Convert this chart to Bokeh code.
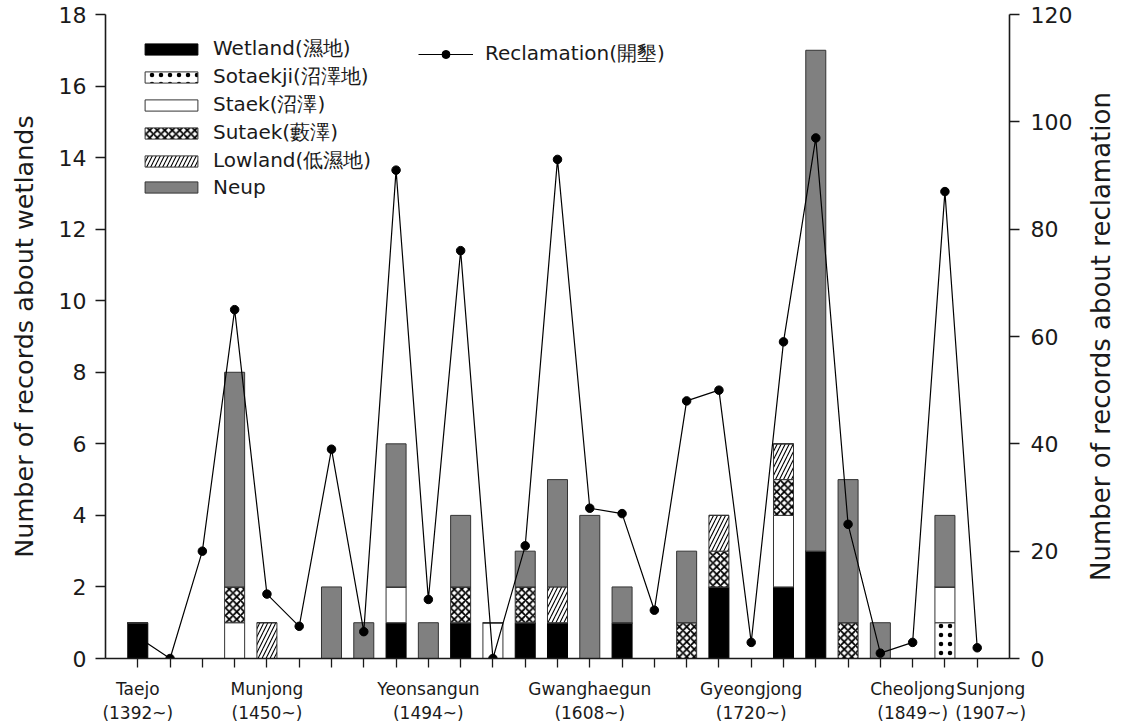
import math
from bokeh.plotting import figure
from bokeh.layouts import row
from bokeh.models import (Range1d, LinearAxis, FixedTicker, SingleIntervalTicker,
                          Legend, LegendItem, ColumnDataSource)
from bokeh.embed import file_html
from bokeh.resources import INLINE

# ---- data -------------------------------------------------------------
reigns = ["Taejo", "Jeongjong", "Taejong", "Sejong", "Munjong", "Danjong", "Sejo",
          "Yejong", "Seongjong", "Yeonsangun", "Jungjong", "Injong", "Myeongjong",
          "Seonjo", "Gwanghaegun", "Injo", "Hyojong", "Hyeonjong", "Sukjong",
          "Gyeongjong", "Yeongjo", "Jeongjo", "Sunjo", "Heonjong", "Cheoljong",
          "Gojong", "Sunjong"]

labelled = {"Taejo": "(1392~)", "Munjong": "(1450~)", "Yeonsangun": "(1494~)",
            "Gwanghaegun": "(1608~)", "Gyeongjong": "(1720~)",
            "Cheoljong": "(1849~)", "Sunjong": "(1907~)"}

wetland  = [1, 0, 0, 0, 0, 0, 0, 0, 1, 0, 1, 0, 1, 1, 0, 1, 0, 0, 2, 0, 2, 3, 0, 0, 0, 0, 0]
sotaekji = [0, 0, 0, 0, 0, 0, 0, 0, 0, 0, 0, 0, 0, 0, 0, 0, 0, 0, 0, 0, 0, 0, 0, 0, 0, 1, 0]
staek    = [0, 0, 0, 1, 0, 0, 0, 0, 1, 0, 0, 1, 0, 0, 0, 0, 0, 0, 0, 0, 2, 0, 0, 0, 0, 1, 0]
sutaek   = [0, 0, 0, 1, 0, 0, 0, 0, 0, 0, 1, 0, 1, 0, 0, 0, 0, 1, 1, 0, 1, 0, 1, 0, 0, 0, 0]
lowland  = [0, 0, 0, 0, 1, 0, 0, 0, 0, 0, 0, 0, 0, 1, 0, 0, 0, 0, 1, 0, 1, 0, 0, 0, 0, 0, 0]
neup     = [0, 0, 0, 6, 0, 0, 2, 1, 4, 1, 2, 0, 1, 3, 4, 1, 0, 2, 0, 0, 0, 14, 4, 1, 0, 2, 0]

reclamation = [4, 0, 20, 65, 12, 6, 39, 5, 91, 11, 76, 0, 21, 93, 28, 27, 9, 48, 50, 3,
               59, 97, 25, 1, 3, 87, 2]

series_names = ["wetland", "sotaekji", "staek", "sutaek", "lowland", "neup"]
series_labels = ["Wetland(濕地)", "Sotaekji(沼澤地)", "Staek(沼澤)", "Sutaek(藪澤)",
                 "Lowland(低濕地)", "Neup"]

left_title = "Number of records about wetlands"
right_title = "Number of records about reclamation"

# ---- styling ----------------------------------------------------------
FONT = "DejaVu Sans"
INK = "#1a1a1a"
NB = "\u00a0"

xs = list(range(len(reigns)))
src = ColumnDataSource(dict(x=xs, wetland=wetland, sotaekji=sotaekji, staek=staek,
                            sutaek=sutaek, lowland=lowland, neup=neup,
                            recl=reclamation))

p = figure(width=1075, height=725, output_backend="svg", toolbar_location=None,
           x_range=Range1d(-1, len(reigns)), y_range=Range1d(0, 18),
           min_border_left=105, min_border_right=66, min_border_top=14,
           min_border_bottom=60)
p.outline_line_color = None
p.xgrid.visible = False
p.ygrid.visible = False
p.background_fill_color = "white"
p.border_fill_color = "white"

p.extra_y_ranges = {"recl": Range1d(0, 120)}

# bars
bars = p.vbar_stack(series_names, x="x", width=0.62, source=src,
                    fill_color=["black", "white", "white", "white", "white", "#808080"],
                    line_color=["black", "#333333", "#333333", "#333333", "#333333", "#333333"],
                    line_width=1,
                    hatch_pattern=[None, ".", None, "x", "/", None],
                    hatch_color="black",
                    hatch_scale=[8, 9, 8, 7.5, 8, 8],
                    hatch_weight=[1, 1.0, 1, 1.8, 1.1, 1])

# reclamation line
lr = p.line(x="x", y="recl", source=src, y_range_name="recl", line_color="black",
            line_width=1.2)
sr = p.scatter(x="x", y="recl", source=src, y_range_name="recl", size=8.5,
               fill_color="black", line_color="black")

# tick labels for the x axis
overrides = {}
for i, name in enumerate(reigns):
    if name in labelled:
        pad = NB * 5 if name == "Sunjong" else ""
        overrides[i] = pad + name + "\n" + pad + labelled[name]
    else:
        overrides[i] = ""

# axes
xa = p.xaxis[0]
xa.ticker = FixedTicker(ticks=xs)
xa.major_label_overrides = overrides
xa.major_label_text_font = FONT
xa.major_label_text_font_size = "17px"
xa.major_label_text_color = INK
xa.major_label_standoff = 11
xa.major_tick_out = 9
xa.major_tick_in = 0
xa.minor_tick_line_color = None
xa.axis_line_width = 1.6
xa.axis_line_color = INK
xa.major_tick_line_color = INK
xa.major_tick_line_width = 1.3

ya = p.yaxis[0]
ya.ticker = SingleIntervalTicker(interval=2)
ya.major_tick_out = 10
ya.major_tick_in = 0
ya.minor_tick_line_color = None
ya.major_label_text_font = FONT
ya.major_label_text_font_size = "22px"
ya.major_label_text_color = INK
ya.major_label_standoff = 9
ya.axis_line_width = 1.6
ya.axis_line_color = INK
ya.major_tick_line_color = INK
ya.major_tick_line_width = 1.3
ya.axis_label = left_title
ya.axis_label_text_font = FONT
ya.axis_label_text_font_size = "25.5px"
ya.axis_label_text_font_style = "normal"
ya.axis_label_text_color = INK
ya.axis_label_standoff = 17

ra = LinearAxis(y_range_name="recl", ticker=SingleIntervalTicker(interval=20))
ra.major_tick_out = 10
ra.major_tick_in = 0
ra.minor_tick_line_color = None
ra.major_label_text_font = FONT
ra.major_label_text_font_size = "22px"
ra.major_label_text_color = INK
ra.major_label_standoff = 11
ra.axis_line_width = 1.6
ra.axis_line_color = INK
ra.major_tick_line_color = INK
ra.major_tick_line_width = 1.3
p.add_layout(ra, "right")

# legends (area swatches are drawn inset by 10% of the glyph box)
leg_bars = Legend(items=[LegendItem(label=lab, renderers=[r])
                         for lab, r in zip(series_labels, bars)],
                  location=(33, 459), glyph_width=66, glyph_height=14,
                  label_standoff=9, label_text_font=FONT,
                  label_text_font_size="20px", label_text_color=INK,
                  label_height=20, spacing=1, padding=0, margin=0,
                  border_line_alpha=0, background_fill_alpha=0)
leg_line = Legend(items=[LegendItem(label="Reclamation(開墾)", renderers=[lr, sr])],
                  location=(313, 591), glyph_width=55, glyph_height=20,
                  label_standoff=12, label_text_font=FONT,
                  label_text_font_size="20px", label_text_color=INK,
                  label_height=20, spacing=0, padding=0, margin=0,
                  border_line_alpha=0, background_fill_alpha=0)
p.add_layout(leg_bars)
p.add_layout(leg_line)

# narrow companion panel that carries the right-hand axis title
# (reading bottom-to-top like the left one)
p2 = figure(width=49, height=725, output_backend="svg", toolbar_location=None,
            x_range=Range1d(0, 1), y_range=Range1d(0, 1),
            min_border_left=44, min_border_right=0, min_border_top=14,
            min_border_bottom=60)
p2.outline_line_color = None
p2.xgrid.visible = False
p2.ygrid.visible = False
p2.xaxis.visible = False
ta = p2.yaxis[0]
ta.ticker = FixedTicker(ticks=[])
ta.axis_line_color = None
ta.major_tick_line_color = None
ta.minor_tick_line_color = None
ta.axis_label = right_title
ta.axis_label_text_font = FONT
ta.axis_label_text_font_size = "26px"
ta.axis_label_text_font_style = "normal"
ta.axis_label_text_color = INK
ta.axis_label_standoff = 4

layout = row(p, p2, spacing=0)
open("out.html", "w").write(file_html(layout, INLINE))
